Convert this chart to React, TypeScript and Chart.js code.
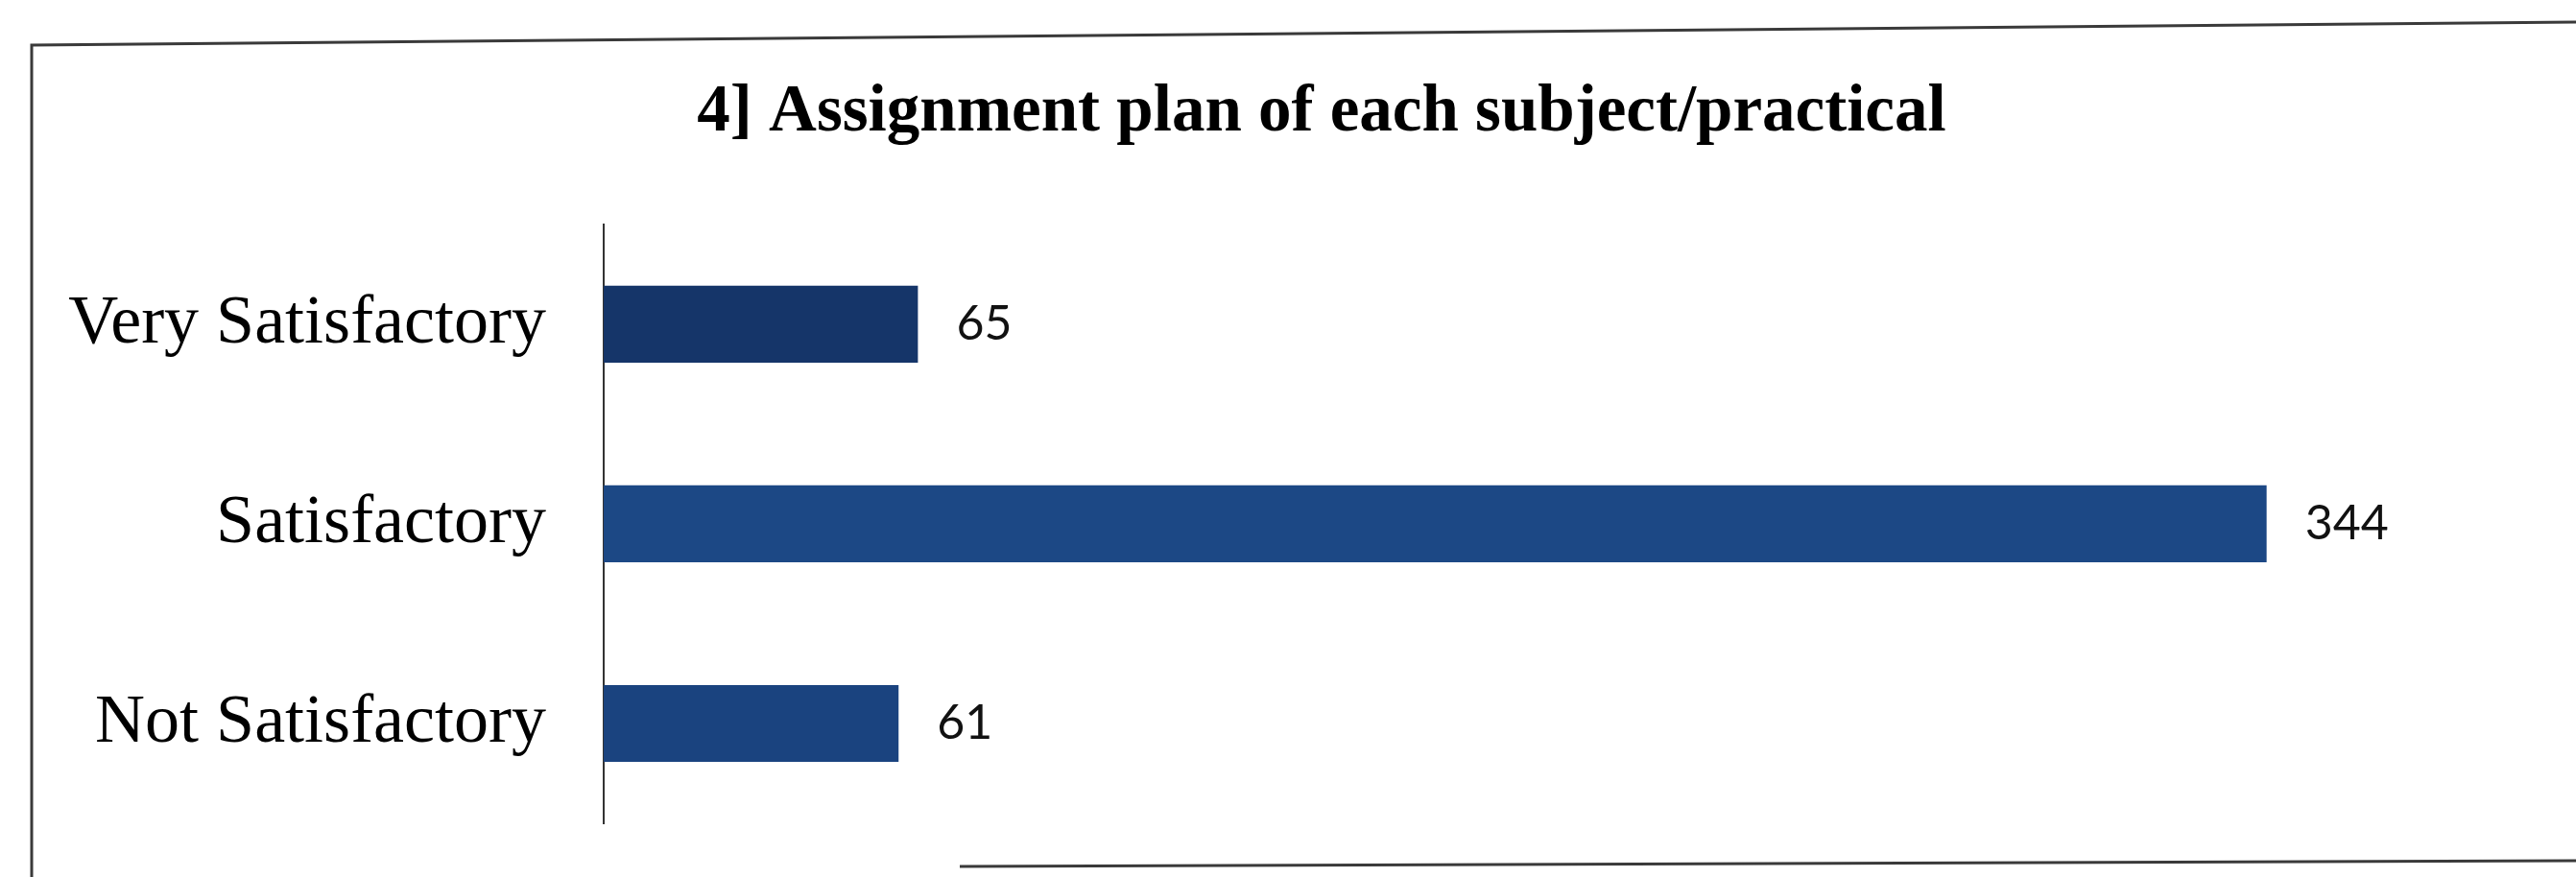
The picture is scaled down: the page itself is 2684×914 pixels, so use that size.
import React, { useEffect, useRef } from "react";
import { Chart, registerables } from "chart.js";

Chart.register(...registerables);

const titleText = "4] Assignment plan of each subject/practical";
const categories = ["Very Satisfactory", "Satisfactory", "Not Satisfactory"];
const responses = [65, 344, 61];
const barColors = ["#153569", "#1c4885", "#1a437f"];
const xMax = 408;

const frameLines = {
  id: "frameLines",
  beforeDraw(chart: any) {
    const ctx = chart.ctx;
    ctx.save();
    ctx.strokeStyle = "#3a3a3a";
    ctx.lineWidth = 3;
    ctx.beginPath();
    ctx.moveTo(33, 914);
    ctx.lineTo(33, 47);
    ctx.lineTo(2684, 23);
    ctx.stroke();
    ctx.beginPath();
    ctx.moveTo(1000, 903);
    ctx.lineTo(2684, 897);
    ctx.stroke();
    ctx.restore();
  },
};

const valueLabels = {
  id: "valueLabels",
  afterDatasetsDraw(chart: any) {
    const ctx = chart.ctx;
    const meta = chart.getDatasetMeta(0);
    const data = chart.data.datasets[0].data;
    ctx.save();
    ctx.font = "50px Lato, 'Open Sans', sans-serif";
    ctx.fillStyle = "#111";
    ctx.textAlign = "left";
    ctx.textBaseline = "middle";
    meta.data.forEach((el: any, i: number) => {
      ctx.fillText(String(data[i]), el.x + 40, el.y);
    });
    ctx.restore();
  },
};

export default function App() {
  const canvasRef = useRef<HTMLCanvasElement | null>(null);

  useEffect(() => {
    if (!canvasRef.current) return;
    const chart = new Chart(canvasRef.current, {
      type: "bar",
      data: {
        labels: categories,
        datasets: [
          {
            data: responses,
            backgroundColor: barColors,
            borderWidth: 0,
            categoryPercentage: 1,
            barPercentage: 0.385,
          },
        ],
      },
      options: {
        indexAxis: "y",
        animation: false,
        responsive: true,
        maintainAspectRatio: false,
        layout: { padding: { top: 0, left: 60, right: -10, bottom: 56 } },
        plugins: {
          legend: { display: false },
          tooltip: { enabled: false },
          title: {
            display: true,
            text: titleText,
            color: "#000",
            font: { family: "'Times New Roman', 'Liberation Serif', serif", size: 69, weight: "bold" },
            padding: { top: 77, bottom: 74 },
          },
        },
        scales: {
          x: { display: false, min: 0, max: xMax },
          y: {
            grid: { display: false, drawTicks: false },
            border: { display: true, color: "#333", width: 2 },
            afterFit: (scale: any) => {
              scale.width = 569;
              scale.paddingTop = 0;
              scale.paddingBottom = 0;
            },
            ticks: {
              color: "#000",
              padding: 60,
              font: { family: "'Times New Roman', 'Liberation Serif', serif", size: 72 },
            },
          },
        },
      },
      plugins: [frameLines, valueLabels],
    });
    return () => chart.destroy();
  }, []);

  return (
    <div style={{ position: "absolute", left: 0, top: 0, width: 2684, height: 914, background: "#fff", overflow: "hidden" }}>
      <canvas ref={canvasRef} />
    </div>
  );
}
